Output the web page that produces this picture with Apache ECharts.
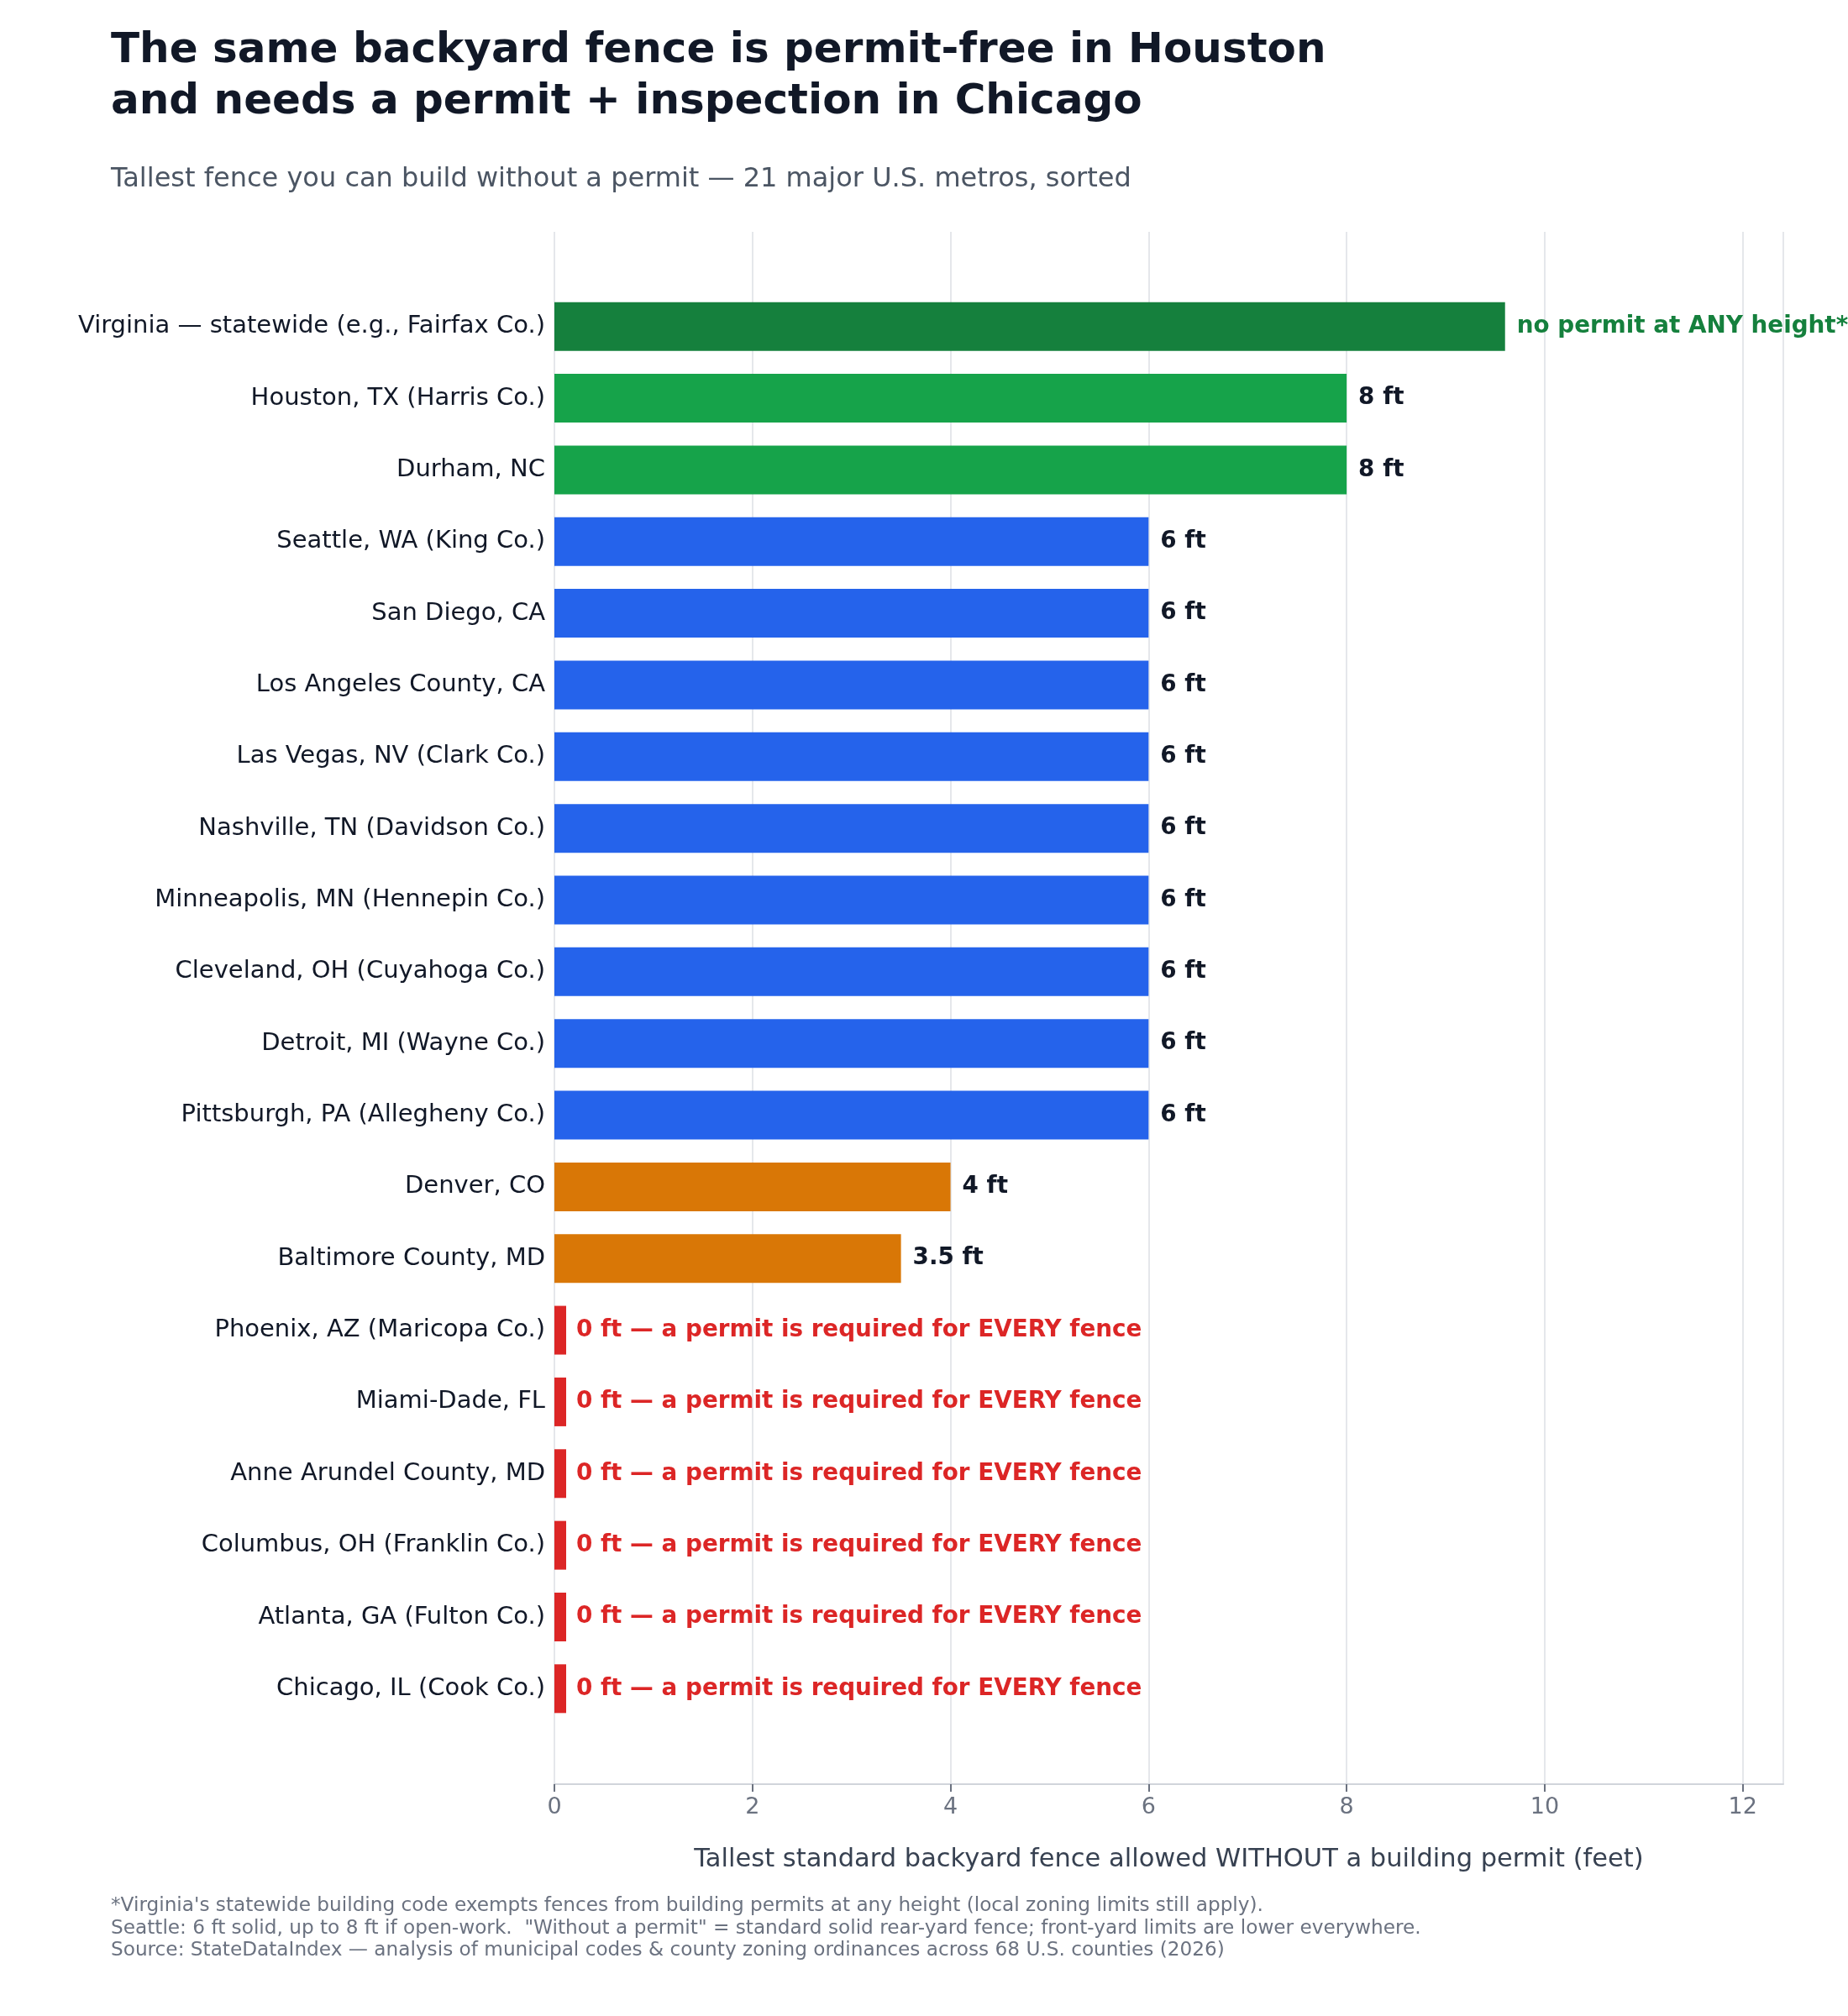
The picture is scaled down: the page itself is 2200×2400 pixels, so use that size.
<!DOCTYPE html>
<html>
<head>
    <meta charset="utf-8">
    <title>Fence permits</title>
    <script src="https://cdn.jsdelivr.net/npm/echarts@6/dist/echarts.min.js"></script>
    <style>
        html, body { margin: 0; padding: 0; background: #fff; }
    </style>
</head>
<body>
<div id="main" style="width: 2200px;height:2400px;"></div>
<script type="text/javascript">
    // metros, top to bottom
    var places = [
        'Virginia — statewide (e.g., Fairfax Co.)',
        'Houston, TX (Harris Co.)',
        'Durham, NC',
        'Seattle, WA (King Co.)',
        'San Diego, CA',
        'Los Angeles County, CA',
        'Las Vegas, NV (Clark Co.)',
        'Nashville, TN (Davidson Co.)',
        'Minneapolis, MN (Hennepin Co.)',
        'Cleveland, OH (Cuyahoga Co.)',
        'Detroit, MI (Wayne Co.)',
        'Pittsburgh, PA (Allegheny Co.)',
        'Denver, CO',
        'Baltimore County, MD',
        'Phoenix, AZ (Maricopa Co.)',
        'Miami-Dade, FL',
        'Anne Arundel County, MD',
        'Columbus, OH (Franklin Co.)',
        'Atlanta, GA (Fulton Co.)',
        'Chicago, IL (Cook Co.)'
    ];
    // feet allowed without permit (Virginia drawn long = no limit)
    var feet = [9.6, 8, 8, 6, 6, 6, 6, 6, 6, 6, 6, 6, 4, 3.5, 0, 0, 0, 0, 0, 0];
    // which colour group each bar falls in
    var groups = ['any', 'high', 'high', 'std', 'std', 'std', 'std', 'std', 'std', 'std', 'std', 'std',
        'low', 'low', 'none', 'none', 'none', 'none', 'none', 'none'];
    var barText = ['no permit at ANY height*', '8 ft', '8 ft', '6 ft', '6 ft', '6 ft', '6 ft', '6 ft', '6 ft',
        '6 ft', '6 ft', '6 ft', '4 ft', '3.5 ft',
        '0 ft — a permit is required for EVERY fence', '0 ft — a permit is required for EVERY fence',
        '0 ft — a permit is required for EVERY fence', '0 ft — a permit is required for EVERY fence',
        '0 ft — a permit is required for EVERY fence', '0 ft — a permit is required for EVERY fence'];
    var xTicks = [0, 2, 4, 6, 8, 10, 12];

    var colors = {any: '#15803d', high: '#16a34a', std: '#2563eb', low: '#d97706', none: '#dc2626'};
    var labelColors = {any: '#15803d', high: '#111827', std: '#111827', low: '#111827', none: '#dc2626'};

    var font = 'DejaVu Sans';
    var xMax = 12.41;

    var barData = feet.map(function (v, i) {
        var g = groups[i];
        return {
            value: v,
            itemStyle: {color: colors[g]},
            label: {formatter: barText[i], color: labelColors[g], distance: g === 'none' ? 12 : 14}
        };
    });

    var myChart = echarts.init(document.getElementById('main'));
    var option = {
        backgroundColor: '#ffffff',
        animation: false,
        textStyle: {fontFamily: font},
        title: [{
            text: 'The same backyard fence is permit-free in Houston\nand needs a permit + inspection in Chicago',
            left: 132,
            top: 31,
            padding: 0,
            textStyle: {fontFamily: font, fontSize: 50, fontWeight: 'bold', color: '#111827', lineHeight: 61}
        }, {
            text: 'Tallest fence you can build without a permit — 21 major U.S. metros, sorted',
            left: 132,
            top: 198,
            padding: 0,
            textStyle: {fontFamily: font, fontSize: 32, fontWeight: 'normal', color: '#4b5563'}
        }, {
            text: "*Virginia's statewide building code exempts fences from building permits at any height (local zoning limits still apply).\n" +
                'Seattle: 6 ft solid, up to 8 ft if open-work.  "Without a permit" = standard solid rear-yard fence; front-yard limits are lower everywhere.\n' +
                'Source: StateDataIndex — analysis of municipal codes & county zoning ordinances across 68 U.S. counties (2026)',
            left: 132,
            top: 2256,
            padding: 0,
            textStyle: {fontFamily: font, fontSize: 23.2, fontWeight: 'normal', color: '#6b7280', lineHeight: 26.5}
        }],
        grid: [
            // frame with gridlines and the x axis
            {left: 660, right: 77, top: 276, bottom: 276},
            // bars
            {left: 660, right: 77, top: 346, bottom: 347}
        ],
        xAxis: [{
            gridIndex: 0,
            type: 'value',
            min: 0,
            max: xMax,
            interval: 2,
            name: 'Tallest standard backyard fence allowed WITHOUT a building permit (feet)',
            nameLocation: 'middle',
            nameGap: 75,
            nameTextStyle: {fontFamily: font, fontSize: 30.5, color: '#374151'},
            axisLine: {show: true, lineStyle: {color: '#d1d5db', width: 2}},
            axisTick: {show: true, length: 9, lineStyle: {color: '#6b7280', width: 2}},
            axisLabel: {
                fontFamily: font, fontSize: 27, color: '#6b7280', margin: 14,
                showMaxLabel: false,
                formatter: function (v) {
                    return xTicks.indexOf(v) >= 0 ? String(v) : '';
                }
            },
            splitLine: {show: true, lineStyle: {color: '#e5e7eb', width: 2}}
        }, {
            gridIndex: 1,
            type: 'value',
            min: 0,
            max: xMax,
            show: false
        }],
        yAxis: [{
            gridIndex: 0,
            type: 'value',
            show: false
        }, {
            gridIndex: 1,
            type: 'category',
            data: places,
            inverse: true,
            axisLine: {show: false},
            axisTick: {show: false},
            axisLabel: {fontFamily: font, fontSize: 29, color: '#111827', margin: 11, padding: [4, 0, 0, 0]}
        }],
        series: [{
            type: 'bar',
            xAxisIndex: 1,
            yAxisIndex: 1,
            data: barData,
            barWidth: 58,
            barMinHeight: 14,
            label: {
                show: true,
                position: 'right',
                fontFamily: font,
                fontSize: 27.8,
                fontWeight: 'bold'
            }
        }]
    };
    myChart.setOption(option);
</script>
</body>
</html>
